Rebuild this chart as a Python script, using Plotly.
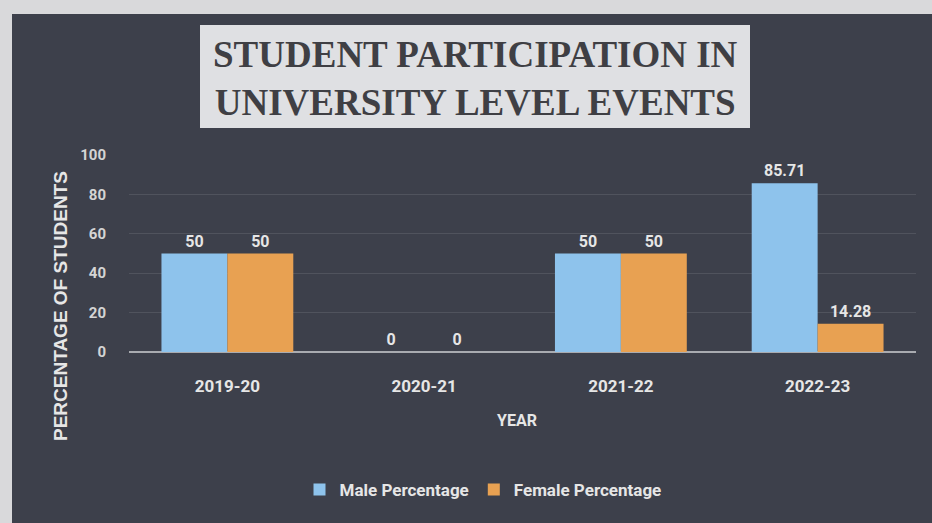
import plotly.graph_objects as go

years = ["2019-20", "2020-21", "2021-22", "2022-23"]
male_pct = [50, 0, 50, 85.71]
female_pct = [50, 0, 50, 14.28]
y_ticks = [0, 20, 40, 60, 80, 100]

W, H = 932, 523
L, R, T, B = 129, 16, 155, 171
pw, ph = W - L - R, H - T - B

def px(x):
    return (x - L) / pw

def py(y):
    return (H - B - y) / ph

label_font = "Roboto, Liberation Sans, Arial, sans-serif"
txt_col = "#e6e6e6"

fig = go.Figure()
fig.add_trace(go.Bar(
    x=years, y=male_pct, name="<b>Male Percentage</b>",
    marker=dict(color="#8ec3ec", line=dict(width=0)),
    text=[f"<b>{v:g}</b>" for v in male_pct], textposition="outside",
    textfont=dict(family=label_font, size=16, color=txt_col),
    cliponaxis=False,
))
fig.add_trace(go.Bar(
    x=years, y=female_pct, name="<b>Female Percentage</b>",
    marker=dict(color="#e8a152", line=dict(width=0)),
    text=[f"<b>{v:g}</b>" for v in female_pct], textposition="outside",
    textfont=dict(family=label_font, size=16, color=txt_col),
    cliponaxis=False,
))

shapes = [
    dict(type="rect", xref="paper", yref="paper",
         x0=px(12), x1=px(W + 20), y0=py(H + 20), y1=py(14),
         fillcolor="#3d404b", line=dict(width=0), layer="below"),
    dict(type="rect", xref="paper", yref="paper",
         x0=px(200), x1=px(750), y0=py(128), y1=py(25),
         fillcolor="#dfe0e3", line=dict(width=0), layer="below"),
]

annotations = [
    dict(text="<b>STUDENT PARTICIPATION IN<br>UNIVERSITY LEVEL EVENTS</b>",
         xref="paper", yref="paper", x=px(475), y=py(78),
         xanchor="center", yanchor="middle", showarrow=False,
         font=dict(family="Liberation Serif, DejaVu Serif, serif", size=37, color="#3f3f44"),
         align="center"),
    dict(text="<b>PERCENTAGE OF STUDENTS</b>", xref="paper", yref="paper",
         x=px(60), y=py(306), textangle=-90, showarrow=False,
         xanchor="center", yanchor="middle",
         font=dict(family="Liberation Sans, Arial, sans-serif", size=19, color=txt_col)),
    dict(text="<b>YEAR</b>", xref="paper", yref="paper",
         x=px(517), y=py(420), showarrow=False,
         xanchor="center", yanchor="middle",
         font=dict(family=label_font, size=16, color=txt_col)),
]

fig.update_layout(
    width=W, height=H,
    margin=dict(l=L, r=R, t=T, b=B, autoexpand=False),
    paper_bgcolor="#d9d9db",
    plot_bgcolor="rgba(0,0,0,0)",
    barmode="group", bargap=0.33, bargroupgap=0,
    shapes=shapes, annotations=annotations,
    legend=dict(orientation="h", x=px(483), y=py(490),
                xanchor="center", yanchor="middle",
                font=dict(family=label_font, size=17, color=txt_col),
                bgcolor="rgba(0,0,0,0)", itemwidth=30, traceorder="normal"),
)
fig.update_xaxes(
    showgrid=False, showline=False, zeroline=False,
    ticks="", ticklabelstandoff=22,
    tickfont=dict(family=label_font, size=17, color=txt_col),
    tickvals=years, ticktext=[f"<b>{y}</b>" for y in years],
)
fig.update_yaxes(
    range=[0, 100], tickvals=y_ticks, ticktext=[f"<b>{v}</b>" for v in y_ticks],
    showgrid=True, gridcolor="rgba(255,255,255,0.10)", gridwidth=1,
    zeroline=True, zerolinecolor="#a9abb0", zerolinewidth=2,
    showline=False, ticks="", ticklabelstandoff=22,
    tickfont=dict(family=label_font, size=15, color="#d4d4d4"),
)

fig.write_html("out.html", config={"displayModeBar": False},
               post_script="document.body.style.margin='0';")
